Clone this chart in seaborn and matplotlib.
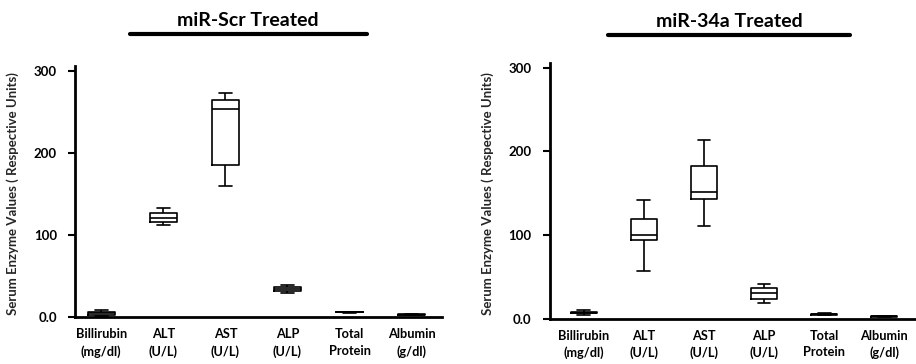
import numpy as np
import pandas as pd
import matplotlib
matplotlib.use("Agg")
import matplotlib.pyplot as plt
from matplotlib.lines import Line2D
import seaborn as sns

categories = ["Billirubin\n(mg/dl)", "ALT\n(U/L)", "AST\n(U/L)", "ALP\n(U/L)", "Total\nProtein", "Albumin\n(g/dl)"]

# five-number summaries per category: [min, q1, median, q3, max]
scr_billirubin = [1, 3, 4.5, 6, 8]
scr_alt = [112, 116, 121, 127, 133]
scr_ast = [160, 185, 254, 264, 273]
scr_alp = [29, 32, 34, 36, 39]
scr_tp = [5.5, 5.8, 6, 6.3, 6.6]
scr_alb = [2, 2.5, 3, 3.5, 4]

m34_billirubin = [5, 6.5, 7.5, 8.5, 10]
m34_alt = [57, 94, 100, 119, 142]
m34_ast = [111, 143, 151, 183, 214]
m34_alp = [19, 24, 31, 37, 42]
m34_tp = [4.5, 5, 5.5, 6, 6.5]
m34_alb = [2, 2.5, 3, 3.5, 4]

titles = ["miR-Scr Treated", "miR-34a Treated"]
ylabel = "Serum Enzyme Values ( Respective Units)"
yticks = [0, 100, 200, 300]
yticklabels = ["0.0", "100", "200", "300"]

panels = [
    [scr_billirubin, scr_alt, scr_ast, scr_alp, scr_tp, scr_alb],
    [m34_billirubin, m34_alt, m34_ast, m34_alp, m34_tp, m34_alb],
]

sns.set_style("ticks")
plt.rcParams["font.family"] = ["Lato", "DejaVu Sans"]
plt.rcParams["font.weight"] = "bold"

fig = plt.figure(figsize=(9.16, 3.64), dpi=100)

axes_rects = [
    [0.082, 0.129, 0.400, 0.690],
    [0.600, 0.124, 0.400, 0.704],
]
xlims = [(-0.42, 5.48), (-0.57, 5.53)]
title_pos = [(0.271, 0.945), (0.796, 0.940)]
bar_pos = [((0.142, 0.401), 0.907), ((0.664, 0.928), 0.904)]

for i, vals in enumerate(panels):
    rows = []
    for cat, v in zip(categories, vals):
        for x in v:
            rows.append({"category": cat, "value": x})
    df = pd.DataFrame(rows)
    ax = fig.add_axes(axes_rects[i])
    sns.boxplot(
        data=df, x="category", y="value", order=categories, ax=ax,
        whis=(0, 100), width=0.43, fill=False, color="black", linewidth=1.2,
        showfliers=False,
        medianprops={"color": "black", "linewidth": 1.2},
    )
    ax.set_xlim(*xlims[i])
    ax.set_ylim(0, 306)
    ax.set_yticks(yticks)
    ax.set_yticklabels(yticklabels)
    ax.set_xlabel("")
    ax.set_ylabel(ylabel, fontsize=9.5, fontweight="bold")
    ax.yaxis.set_label_coords(-0.152, 0.49)
    for s in ["top", "right"]:
        ax.spines[s].set_visible(False)
    for s in ["left", "bottom"]:
        ax.spines[s].set_linewidth(2.0)
        ax.spines[s].set_color("black")
    ax.tick_params(axis="y", length=5, width=1.5, pad=8, labelsize=9.5, colors="black")
    ax.tick_params(axis="x", length=0, pad=8, labelsize=9.2, colors="black")
    for lab in ax.get_xticklabels() + ax.get_yticklabels():
        lab.set_fontweight("bold")
        lab.set_linespacing(1.45)
    fig.text(title_pos[i][0], title_pos[i][1], titles[i], ha="center", va="center",
             fontsize=14, fontweight="bold", color="black")
    (x0, x1), yb = bar_pos[i]
    fig.add_artist(Line2D([x0, x1], [yb, yb], transform=fig.transFigure,
                          color="black", linewidth=3))

fig.savefig("out.png", dpi=100, facecolor="white")
